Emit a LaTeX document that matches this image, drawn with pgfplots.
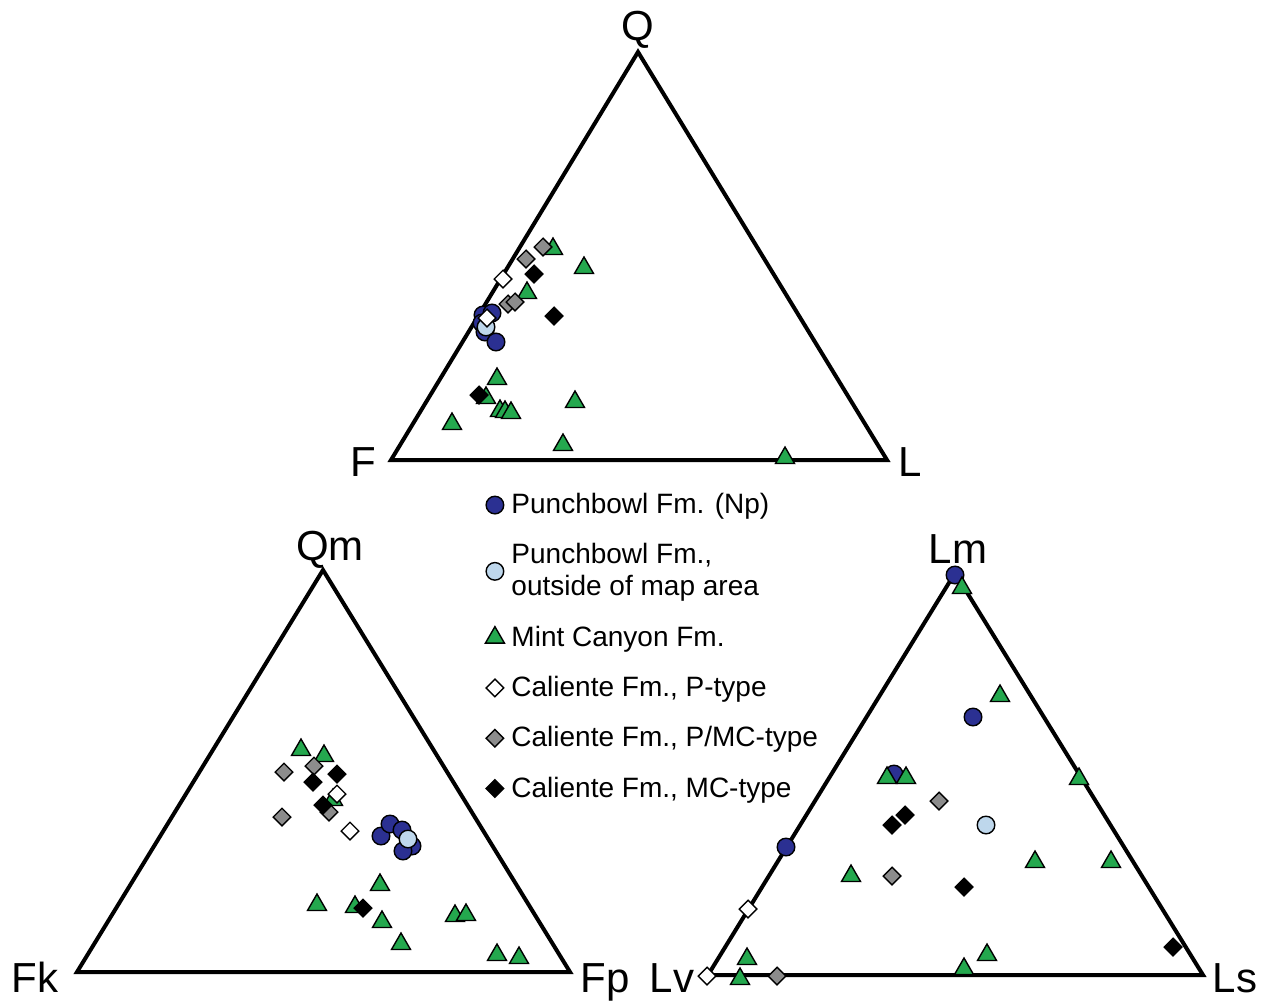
\documentclass[border=0pt]{standalone}
\usepackage{pgfplots}
\pgfplotsset{compat=1.18}
\usepackage{fontspec}
\setmainfont{Liberation Sans}
\definecolor{npblue}{RGB}{43,48,146}
\definecolor{lblue}{RGB}{190,215,236}
\definecolor{mcgreen}{RGB}{36,168,78}
\definecolor{pmgray}{RGB}{140,140,140}
\begin{document}
\begin{tikzpicture}
\begin{axis}[
  width=633.5pt, height=499pt, scale only axis,
  xmin=0, xmax=1267, ymin=0, ymax=998, y dir=reverse,
  hide axis, clip=false,
  pt/.style={only marks, line width=0.7pt},
  legend style={at={(axis cs:485,490)}, anchor=north west, draw=none, fill=none,
    font=\fontsize{14}{16}\selectfont, row sep=10.5pt, column sep=2pt, inner sep=0pt,
    nodes={align=left, inner sep=1.5pt}},
  legend cell align=left,
]
% triangles
\addplot[line width=2pt, line join=miter, forget plot] coordinates {(391,460) (638,52) (887,460) (391,460)} -- cycle;
\addplot[line width=2pt, line join=miter, forget plot] coordinates {(77,972) (323,570) (570,972) (77,972)} -- cycle;
\addplot[line width=2pt, line join=miter, forget plot] coordinates {(708,975) (955,573) (1203,975) (708,975)} -- cycle;
% Punchbowl Np
\addplot[pt, mark=*, mark size=4.4pt, draw=black, fill=npblue] coordinates {
 (483,315) (492,313) (482,323) (485,332) (496,342)
 (381,836) (390,824) (402,830) (412,846) (403,851)
 (955,575) (973,717) (894,774) (786,847)};
\addlegendentry{Punchbowl Fm. (Np)}
% Punchbowl outside
\addplot[pt, mark=*, mark size=4.4pt, draw=black, fill=lblue] coordinates {
 (486,327) (408,839) (986,825)};
\addlegendentry{Punchbowl Fm.,\\outside of map area}
% Mint Canyon
\addplot[pt, mark=triangle*, mark size=5.5pt, draw=black, fill=mcgreen] coordinates {
 (553,249) (584,268) (527,293) (497,379) (486,398) (500,411) (505,412) (511,413) (452,424) (575,402) (563,445) (785,458)
 (301,750) (324,756) (333,800) (380,885) (317,905) (355,907) (382,922) (401,944) (455,916) (466,915) (497,955) (519,958)
 (962,588) (1000,696) (887,778) (906,778) (851,876) (747,959) (740,979) (964,969) (987,955) (1079,779) (1035,862) (1111,862)};
\addlegendentry{Mint Canyon Fm.}
% P-type
\addplot[pt, mark=square*, mark size=3.1pt, mark options={rotate=45}, draw=black, fill=white] coordinates {
 (503,279) (487,318) (337,794) (350,831) (748,909) (707,976)};
\addlegendentry{Caliente Fm., P-type}
% P/MC-type
\addplot[pt, mark=square*, mark size=3.1pt, mark options={rotate=45}, draw=black, fill=pmgray] coordinates {
 (543,247) (526,259) (508,304) (515,302) (284,772) (314,766) (282,817) (329,812) (939,801) (892,876) (777,976)};
\addlegendentry{Caliente Fm., P/MC-type}
% MC-type
\addplot[pt, mark=square*, mark size=3.1pt, mark options={rotate=45}, draw=black, fill=black] coordinates {
 (534,274) (554,316) (479,395) (313,782) (337,774) (323,805) (363,908) (892,825) (905,815) (964,887) (1173,947)};
\addlegendentry{Caliente Fm., MC-type}
% corner labels
\begin{scope}[every node/.style={font=\fontsize{21}{25}\selectfont, anchor=base, inner sep=0pt}]
\node at (axis cs:638,40) {Q};
\node at (axis cs:363,476) {F};
\node at (axis cs:910,476) {L};
\node at (axis cs:330,560) {Qm};
\node at (axis cs:35,992) {Fk};
\node at (axis cs:605,992) {Fp};
\node at (axis cs:958,563) {Lm};
\node at (axis cs:672,992) {Lv};
\node at (axis cs:1235,992) {Ls};
\end{scope}
\path (axis cs:0,0) rectangle (axis cs:1267,998);
\end{axis}
\end{tikzpicture}
\end{document}
